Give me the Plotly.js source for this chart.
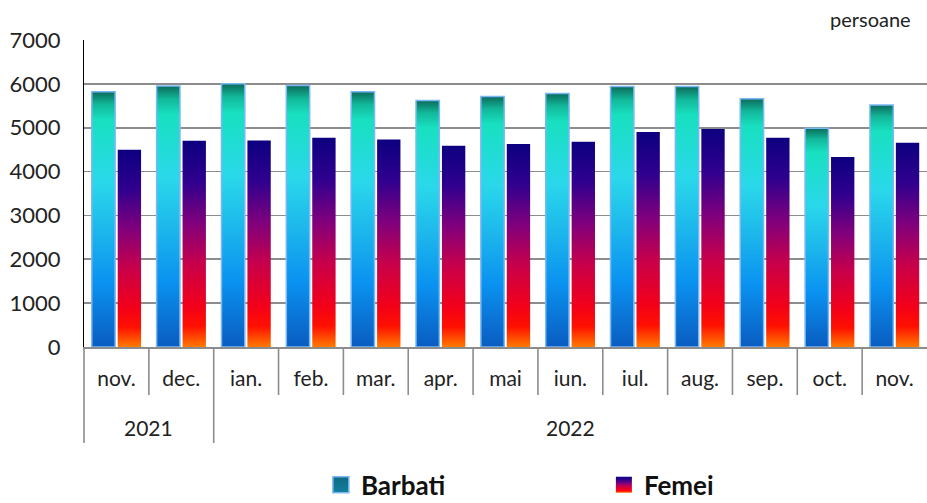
<!DOCTYPE html>
<html><head><meta charset="utf-8">
<script src="https://cdn.plot.ly/plotly-3.0.1.min.js"></script>
<style>html,body{margin:0;padding:0;background:#fff;}#chart{width:927px;height:503px;}</style>
</head><body><div id="chart"></div>
<script>
const years = ["2021","2021","2022","2022","2022","2022","2022","2022","2022","2022","2022","2022","2022"];
const months = ["nov.","dec.","ian.","feb.","mar.","apr.","mai","iun.","iul.","aug.","sep.","oct.","nov."];
const barbati = [5820,5950,6000,5960,5820,5620,5710,5780,5940,5940,5660,4990,5520];
const femei = [4500,4700,4710,4770,4730,4590,4630,4680,4900,4970,4770,4330,4660];
const seriesNames = ["Barbati","Femei"];
const yTicks = [0,1000,2000,3000,4000,5000,6000,7000];

const FONT = "Lato, 'Open Sans', sans-serif";
const n = months.length;
const plotH = 307; // plot height in px
const keys = months.map((m,i) => years[i] + ' ' + m);

// separators & year groups
const shapes = [];
const annotations = [];
const GRAY = '#8c8c8c';
let start = 0;
for (let k = 0; k <= n; k++) {
  const yearEnd = (k === n) || (k > 0 && years[k] !== years[k-1]) || k === 0;
  const len = yearEnd ? 96 : 48;
  if (k < n) shapes.push({type:'line', xref:'paper', yref:'paper', x0:k/n, x1:k/n, y0:0, y1:-len/plotH,
    line:{color:GRAY, width:1.6}});
  if (k > 0 && (k === n || years[k] !== years[k-1])) {
    annotations.push({xref:'x', yref:'paper', x:(start + k - 1)/2, y:-(427-347)/plotH, yanchor:'middle', xanchor:'center',
      text:years[k-1], showarrow:false, font:{family:FONT, size:21, color:'#222'}});
    start = k;
  }
}
annotations.push({xref:'paper', yref:'paper', x:1, y:1, xanchor:'right', yanchor:'bottom', xshift:-14, yshift:7,
  text:'persoane', showarrow:false, font:{family:FONT, size:20, color:'#222'}});

const data = [
  {type:'bar', name:seriesNames[0], x:keys, y:barbati,
   marker:{color:'#1ab8ec', line:{color:'#7ab8f5', width:1.5}}},
  {type:'bar', name:seriesNames[1], x:keys, y:femei,
   marker:{color:'#80007c', line:{width:0}}}
];
const layout = {
  width:927, height:503,
  margin:{l:84, r:0, t:40, b:156, pad:0, autoexpand:false},
  paper_bgcolor:'#fff', plot_bgcolor:'#fff',
  font:{family:FONT, size:20, color:'#222'},
  bargap:0.2, bargroupgap:0.1, barmode:'group',
  showlegend:true,
  legend:{orientation:'h', xref:'paper', x:0.281, yref:'container', y:0.036, xanchor:'left', yanchor:'middle',
    font:{family:FONT, size:26, color:'#111', weight:'bold'}, entrywidth:238, entrywidthmode:'pixels'},
  xaxis:{type:'category', tickvals:keys, ticktext:months,
    showline:true, linecolor:GRAY, linewidth:2, ticks:'', showgrid:false,
    tickfont:{family:FONT, size:21, color:'#222'}, ticklabelstandoff:12},
  yaxis:{range:[0,7000], tickvals:yTicks, ticktext:yTicks.map(String), showgrid:true, gridcolor:GRAY, gridwidth:1.6,
    showline:true, linecolor:'#000', linewidth:1, ticks:'', zeroline:false,
    tickfont:{family:FONT, size:22, color:'#222'}, ticklabelstandoff:18},
  shapes:shapes,
  annotations:annotations
};

Plotly.newPlot('chart', data, layout, {staticPlot:true}).then(gd => {
  const svg = gd.querySelector('svg.main-svg');
  const ns = 'http://www.w3.org/2000/svg';
  let defs = svg.querySelector('defs');
  function grad(id, stops) {
    const g = document.createElementNS(ns, 'linearGradient');
    g.setAttribute('id', id); g.setAttribute('x1','0'); g.setAttribute('y1','0'); g.setAttribute('x2','0'); g.setAttribute('y2','1');
    stops.forEach(([o,c]) => { const s = document.createElementNS(ns,'stop'); s.setAttribute('offset',o); s.setAttribute('stop-color',c); g.appendChild(s); });
    defs.appendChild(g);
  }
  grad('gB', [[0,'#0b6b5a'],[0.05,'#12b89a'],[0.11,'#18e0c0'],[0.35,'#2ad8ea'],[0.55,'#1cb6ec'],[0.75,'#0a92f0'],[1,'#0a5cc0']]);
  grad('gF', [[0,'#0c0080'],[0.2,'#30008e'],[0.4,'#80007c'],[0.6,'#c8004a'],[0.8,'#f2001a'],[0.9,'#ff1000'],[1,'#ff7a00']]);
  grad('gL', [[0,'#0e6a80'],[1,'#127ea0']]);
  const ids = ['gB','gF'];
  gd.querySelectorAll('.barlayer .trace.bars').forEach((t,i) => {
    t.querySelectorAll('path').forEach(p => { p.style.fill = 'url(#'+ids[i]+')'; p.style.fillOpacity = 1; });
  });
  const legIds = ['gL','gF'];
  gd.querySelectorAll('.legend .traces').forEach((t,i) => {
    t.querySelectorAll('.legendpoints path').forEach(p => {
      p.setAttribute('d','M8,8H-8V-8H8Z');
      p.style.fill = 'url(#'+legIds[i]+')'; p.style.fillOpacity = 1;
      if (i === 0) { p.style.stroke = '#7ab8f5'; p.style.strokeWidth = '1.5px'; } else { p.style.strokeWidth = '0'; }
    });
  });
});
</script></body></html>
